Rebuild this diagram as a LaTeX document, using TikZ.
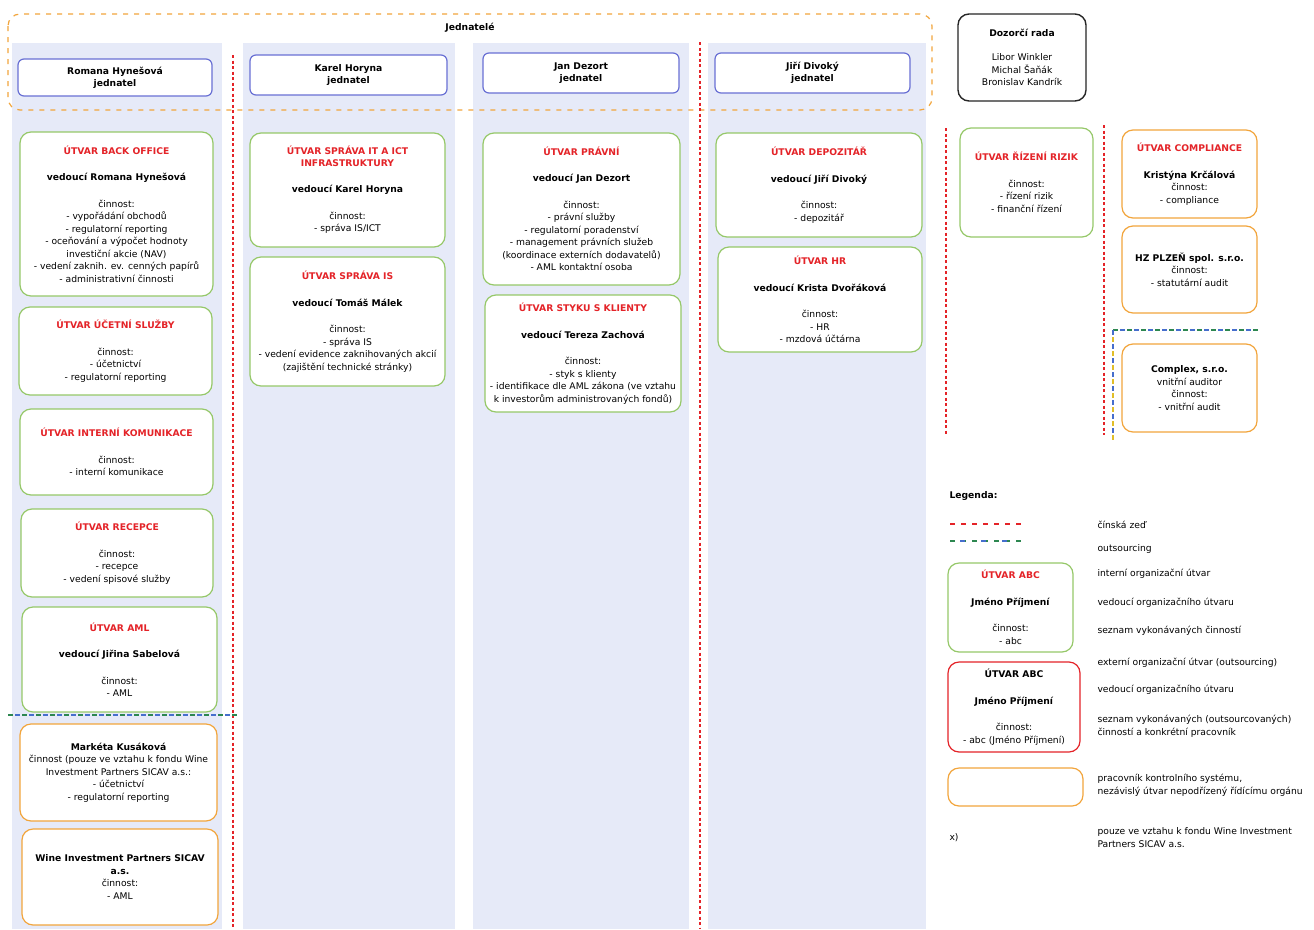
\documentclass[tikz,border=0pt]{standalone}
\usepackage{fontspec}
\setmainfont{DejaVu Sans}
\usetikzlibrary{positioning}
\definecolor{colbg}{RGB}{230,234,248}
\definecolor{jblue}{RGB}{105,112,212}
\definecolor{ugreen}{RGB}{150,200,105}
\definecolor{uorange}{RGB}{242,165,60}
\definecolor{ured}{RGB}{228,35,40}
\definecolor{ublue}{RGB}{70,110,205}
\definecolor{dgreen}{RGB}{45,135,80}
\definecolor{uyellow}{RGB}{225,190,40}
\newcommand{\hd}[1]{\textcolor{ured}{\textbf{#1}}}
\tikzset{
  box/.style={draw, fill=white, rounded corners=11pt, line width=1.2pt, align=center, inner sep=2pt, font=\fontsize{9.2}{12.5}\selectfont},
  sz/.style 2 args={minimum width=#1pt, minimum height=#2pt},
  jbox/.style={box, draw=jblue, rounded corners=6pt, font=\fontsize{9.2}{12}\selectfont\bfseries},
  gbox/.style={box, draw=ugreen},
  obox/.style={box, draw=uorange},
  rbox/.style={box, draw=ured},
  kbox/.style={box, draw=black!85, line width=1.4pt},
  wall/.style={draw=ured, line width=1.6pt, dash pattern=on 3pt off 2.5pt},
  outg/.style={draw=dgreen, line width=1.6pt, dash pattern=on 5pt off 9pt},
  outb/.style={draw=ublue, line width=1.6pt, dash pattern=on 5pt off 9pt, dash phase=7pt},
  outy/.style={draw=uyellow, line width=1.6pt, dash pattern=on 5pt off 9pt, dash phase=7pt},
  legtxt/.style={anchor=west, align=left, font=\fontsize{9.2}{13}\selectfont}
}
\begin{document}
\begin{tikzpicture}[x=1pt, y=-1pt]
\useasboundingbox (0,0) rectangle (1314,929);
\fill[white] (0,0) rectangle (1314,929);
\fill[colbg] (12,43) rectangle (222,929);
\fill[colbg] (243,43) rectangle (455,929);
\fill[colbg] (473,43) rectangle (689,929);
\fill[colbg] (708,43) rectangle (926,929);
\draw[uorange, line width=1.2pt, dash pattern=on 5pt off 6pt, rounded corners=12pt] (8,14) rectangle (932,110);
\node[font=\fontsize{9.2}{10}\selectfont\bfseries] (jednatele) at (470,28) {Jednatelé};
\draw[wall] (233,55) -- (233,929);
\draw[wall] (700,42) -- (700,929);
\node[jbox, sz={194}{37}] (hynesova) at (115,77.5) {Romana Hynešová\\jednatel};
\node[jbox, sz={197}{40}] (horyna) at (348.5,75) {Karel Horyna\\jednatel};
\node[jbox, sz={196}{40}] (dezort) at (581,73) {Jan Dezort\\jednatel};
\node[jbox, sz={195}{40}] (divoky) at (812.5,73) {Jiří Divoký\\jednatel};

\node[gbox, sz={193}{164}] (backoffice) at (116.5,214) {\hd{ÚTVAR BACK OFFICE}\\[14pt]\textbf{vedoucí Romana Hynešová}\\[14pt]činnost:\\- vypořádání obchodů\\- regulatorní reporting\\- oceňování a výpočet hodnoty\\investiční akcie (NAV)\\- vedení zaknih. ev. cenných papírů\\- administrativní činnosti};
\node[gbox, sz={193}{88}] (ucetni) at (115.5,351) {\hd{ÚTVAR ÚČETNÍ SLUŽBY}\\[14pt]činnost:\\- účetnictví\\- regulatorní reporting};
\node[gbox, sz={193}{86}] (interni) at (116.5,452) {\hd{ÚTVAR INTERNÍ KOMUNIKACE}\\[14pt]činnost:\\- interní komunikace};
\node[gbox, sz={192}{88}] (recepce) at (117,553) {\hd{ÚTVAR RECEPCE}\\[14pt]činnost:\\- recepce\\- vedení spisové služby};
\node[gbox, sz={195}{105}] (aml) at (119.5,659.5) {\hd{ÚTVAR AML}\\[14pt]\textbf{vedoucí Jiřina Sabelová}\\[14pt]činnost:\\- AML};
\draw[outg] (8,715) -- (237,715);
\draw[outb] (8,715) -- (237,715);
\node[obox, sz={197}{97}] (kusakova) at (118.5,772.5) {\textbf{Markéta Kusáková}\\činnost (pouze ve vztahu k fondu Wine\\Investment Partners SICAV a.s.:\\- účetnictví\\- regulatorní reporting};
\node[obox, sz={196}{96}] (wine) at (120,877) {\textbf{Wine Investment Partners SICAV}\\\textbf{a.s.}\\činnost:\\- AML};

\node[gbox, sz={195}{114}] (spravaict) at (347.5,190) {\hd{ÚTVAR SPRÁVA IT A ICT}\\[-1pt]\hd{INFRASTRUKTURY}\\[14pt]\textbf{vedoucí Karel Horyna}\\[14pt]činnost:\\- správa IS/ICT};
\node[gbox, sz={195}{129}] (spravais) at (347.5,321.5) {\hd{ÚTVAR SPRÁVA IS}\\[14pt]\textbf{vedoucí Tomáš Málek}\\[14pt]činnost:\\- správa IS\\- vedení evidence zaknihovaných akcií\\(zajištění technické stránky)};

\node[gbox, sz={197}{152}] (pravni) at (581.5,209) {\hd{ÚTVAR PRÁVNÍ}\\[14pt]\textbf{vedoucí Jan Dezort}\\[14pt]činnost:\\- právní služby\\- regulatorní poradenství\\- management právních služeb\\(koordinace externích dodavatelů)\\- AML kontaktní osoba};
\node[gbox, sz={196}{117}] (styk) at (583,353.5) {\hd{ÚTVAR STYKU S KLIENTY}\\[14pt]\textbf{vedoucí Tereza Zachová}\\[14pt]činnost:\\- styk s klienty\\- identifikace dle AML zákona (ve vztahu\\k investorům administrovaných fondů)};

\node[gbox, sz={206}{104}] (depozitar) at (819,185) {\hd{ÚTVAR DEPOZITÁŘ}\\[14pt]\textbf{vedoucí Jiří Divoký}\\[14pt]činnost:\\- depozitář};
\node[gbox, sz={204}{105}] (hr) at (820,299.5) {\hd{ÚTVAR HR}\\[14pt]\textbf{vedoucí Krista Dvořáková}\\[14pt]činnost:\\- HR\\- mzdová účtárna};

\node[kbox, sz={128}{87}] (dozorci) at (1022,57.5) {\textbf{Dozorčí rada}\\[12pt]Libor Winkler\\Michal Šaňák\\Bronislav Kandrík};
\draw[wall] (946,128) -- (946,435);
\draw[wall] (1104,125) -- (1104,435);
\node[gbox, sz={133}{109}] (rizeni) at (1026.5,182.5) {\hd{ÚTVAR ŘÍZENÍ RIZIK}\\[14pt]činnost:\\- řízení rizik\\- finanční řízení};
\node[obox, sz={135}{88}] (compliance) at (1189.5,174) {\hd{ÚTVAR COMPLIANCE}\\[14pt]\textbf{Kristýna Krčálová}\\činnost:\\- compliance};
\node[obox, sz={135}{87}] (hzplzen) at (1189.5,269.5) {\textbf{HZ PLZEŇ spol. s.r.o.}\\činnost:\\- statutární audit};
\draw[outg] (1113,330) -- (1258,330);
\draw[outb] (1113,330) -- (1258,330);
\draw[outy] (1113,330) -- (1113,440);
\draw[ublue, line width=1.6pt, dash pattern=on 5pt off 9pt] (1113,330) -- (1113,440);
\node[obox, sz={135}{88}] (complex) at (1189.5,388) {\textbf{Complex, s.r.o.}\\vnitřní auditor\\činnost:\\- vnitřní audit};

\node[anchor=west, font=\fontsize{9.2}{10}\selectfont\bfseries] (legenda) at (946,496) {Legenda:};
\coordinate (zeda) at (950,524);
\coordinate (zedb) at (1022,524);
\draw[wall, line width=1.3pt, dash pattern=on 5pt off 6pt] (zeda) -- (zedb);
\coordinate (outa) at (950,541);
\coordinate (outbb) at (1022,541);
\draw[outg, line width=1.3pt, dash pattern=on 5pt off 6pt] (outa) -- (outbb);
\draw[outb, line width=1.3pt, dash pattern=on 5pt off 16pt, dash phase=11pt] (outa) -- (outbb);
\node[gbox, sz={125}{89}] (legint) at (1010.5,607.5) {\hd{ÚTVAR ABC}\\[14pt]\textbf{Jméno Příjmení}\\[14pt]činnost:\\- abc};
\node[rbox, sz={132}{90}] (legext) at (1014,707) {\textbf{ÚTVAR ABC}\\[14pt]\textbf{Jméno Příjmení}\\[14pt]činnost:\\- abc (Jméno Příjmení)};
\node[obox, sz={135}{38}] (legkon) at (1015.5,787) {};
\node[legtxt] (l1) at (1094,525) {čínská zeď};
\node[legtxt] (l2) at (1094,549) {outsourcing};
\node[legtxt] (l3) at (1094,574) {interní organizační útvar};
\node[legtxt] (l4) at (1094,603) {vedoucí organizačního útvaru};
\node[legtxt] (l5) at (1094,631) {seznam vykonávaných činností};
\node[legtxt] (l6) at (1094,663) {externí organizační útvar (outsourcing)};
\node[legtxt] (l7) at (1094,690) {vedoucí organizačního útvaru};
\node[legtxt] (l8) at (1094,726) {seznam vykonávaných (outsourcovaných)\\činností a konkrétní pracovník};
\node[legtxt] (l9) at (1094,785) {pracovník kontrolního systému,\\nezávislý útvar nepodřízený řídícímu orgánu};
\node[legtxt] (xmark) at (946,838) {x)};
\node[legtxt] (l10) at (1094,838) {pouze ve vztahu k fondu Wine Investment\\Partners SICAV a.s.};
\end{tikzpicture}
\end{document}
